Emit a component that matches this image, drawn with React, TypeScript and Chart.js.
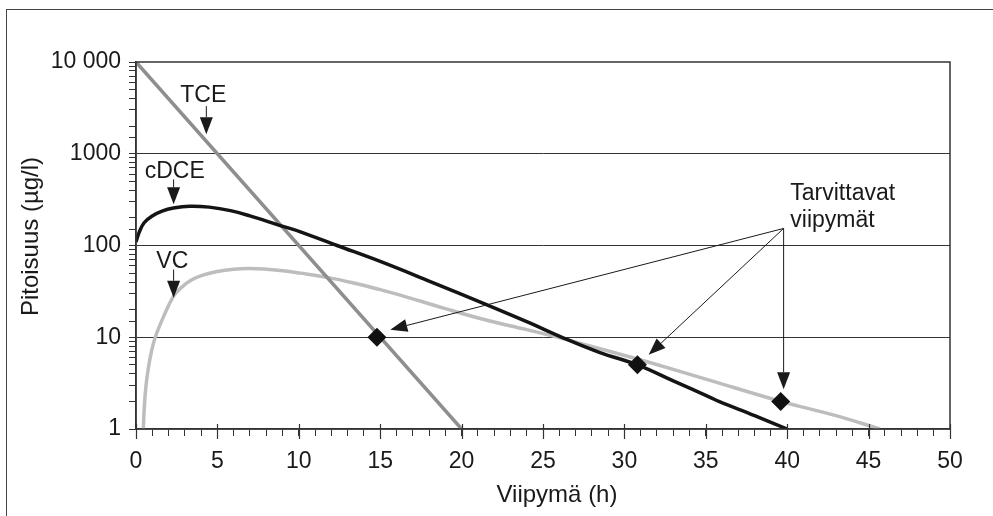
import React, { useEffect, useRef } from "react";
import { Chart, registerables } from "chart.js";

Chart.register(...registerables);

// ---- Data (x in hours, y in µg/l) ----
const TCE_X = [0, 20];
const TCE_Y = [10000, 1];

const CDCE_X = [0, 0.2, 0.5, 1, 1.6, 2.3, 3.3, 4.5, 5.8, 7, 8.86, 10.1, 12.35, 15, 18, 21.56, 24, 26.27, 28.5, 30.8, 33, 35.3, 35.8, 38, 40];
const CDCE_Y = [109, 140, 177, 210, 237, 256, 268, 262, 240, 210, 165, 141, 100, 67, 41, 22.6, 14.8, 9.8, 6.8, 5.0, 3.35, 2.2, 2.0, 1.4, 1.0];

const VC_X = [0.45, 0.5, 0.6, 0.75, 0.95, 1.2, 1.7, 2.3, 2.8, 3.4, 4.1, 5, 6, 7, 8.86, 10.1, 11.9, 13.5, 15, 16.23, 19, 21.56, 24, 26.27, 28.5, 31.4, 35, 39.6, 43, 45.7];
const VC_Y = [1, 1.6, 2.8, 4.5, 7, 10.2, 16.9, 27.9, 35, 42, 47.5, 52, 55, 56, 53.5, 50, 44.4, 38.5, 33, 28.8, 20.5, 15.3, 12.1, 9.6, 7.5, 5.4, 3.5, 2.0, 1.4, 1.0];

const DIAMOND_X = [14.8, 30.8, 39.6];
const DIAMOND_Y = [10, 5, 2];

const X_MIN = 0;
const X_MAX = 50;
const X_MAJOR_STEP = 5;
const Y_MIN = 1;
const Y_MAX = 10000;
const Y_LABELS: Record<number, string> = { 1: "1", 10: "10", 100: "100", 1000: "1000", 10000: "10 000" };

const X_TITLE = "Viipymä (h)";
const Y_TITLE = "Pitoisuus (µg/l)";

// Labels (data coordinates: x, y-baseline value)
const LABEL_TEXTS = ["TCE", "cDCE", "VC"];
const LABEL_X = [4.13, 2.38, 2.23];
const LABEL_Y = [3630, 549, 57];

// Short label arrows (from -> to, data coords)
const SHORT_ARROW_X = [4.32, 2.31, 2.31];
const SHORT_ARROW_FROM_Y = [3304, 526, 54.7];
const SHORT_ARROW_TO_Y = [1633, 281, 27];

// Note text
const NOTE_LINES = ["Tarvittavat", "viipymät"];
const NOTE_X = 40.19;
const NOTE_Y = [310, 161];

// Note arrows: common origin, tips near the diamonds
const NOTE_ORIGIN_X = 39.78;
const NOTE_ORIGIN_Y = 153.5;
const NOTE_TIP_X = [15.62, 31.49, 39.78];
const NOTE_TIP_Y = [12.08, 6.44, 2.72];

const FONT = '"Liberation Sans", Arial, Helvetica, sans-serif';
const INK = "#1a1a1a";

function toPts(xs: number[], ys: number[]) {
  return xs.map((x, i) => ({ x, y: ys[i] }));
}

function drawArrow(ctx: CanvasRenderingContext2D, x1: number, y1: number, x2: number, y2: number, headLen: number, headHalf: number) {
  const ang = Math.atan2(y2 - y1, x2 - x1);
  const bx = x2 - Math.cos(ang) * headLen;
  const by = y2 - Math.sin(ang) * headLen;
  ctx.beginPath();
  ctx.moveTo(x1, y1);
  ctx.lineTo(bx, by);
  ctx.stroke();
  ctx.beginPath();
  ctx.moveTo(x2, y2);
  ctx.lineTo(bx + Math.sin(ang) * headHalf, by - Math.cos(ang) * headHalf);
  ctx.lineTo(bx - Math.sin(ang) * headHalf, by + Math.cos(ang) * headHalf);
  ctx.closePath();
  ctx.fill();
}

const annotPlugin = {
  id: "annot",
  afterDraw(chart: any) {
    const { ctx, chartArea } = chart;
    const xs = chart.scales.x;
    const ys = chart.scales.y;
    const px = (v: number) => xs.getPixelForValue(v);
    const py = (v: number) => ys.getPixelForValue(v);
    ctx.save();

    // plot border
    ctx.strokeStyle = "#333";
    ctx.lineWidth = 1.5;
    ctx.strokeRect(chartArea.left, chartArea.top, chartArea.right - chartArea.left, chartArea.bottom - chartArea.top);

    // major x ticks crossing the axis
    ctx.lineWidth = 1.2;
    for (let v = X_MIN; v <= X_MAX; v += X_MAJOR_STEP) {
      const xx = Math.round(px(v)) + 0.5;
      ctx.beginPath();
      ctx.moveTo(xx, chartArea.bottom - 5);
      ctx.lineTo(xx, chartArea.bottom + 10);
      ctx.stroke();
    }

    // axis titles
    ctx.fillStyle = INK;
    ctx.font = `24px ${FONT}`;
    ctx.textAlign = "center";
    ctx.textBaseline = "middle";
    ctx.fillText(X_TITLE, (chartArea.left + chartArea.right) / 2 + 14, chartArea.bottom + 66);
    ctx.save();
    ctx.translate(chartArea.left - 105, (chartArea.top + chartArea.bottom) / 2 - 9);
    ctx.rotate(-Math.PI / 2);
    ctx.fillText(Y_TITLE, 0, 0);
    ctx.restore();

    // series labels
    ctx.font = `23px ${FONT}`;
    ctx.textBaseline = "alphabetic";
    ctx.textAlign = "center";
    LABEL_TEXTS.forEach((t, i) => ctx.fillText(t, px(LABEL_X[i]), py(LABEL_Y[i])));

    ctx.textAlign = "left";
    NOTE_LINES.forEach((t, i) => ctx.fillText(t, px(NOTE_X), py(NOTE_Y[i])));

    // arrows
    ctx.strokeStyle = INK;
    ctx.fillStyle = INK;
    ctx.lineWidth = 1;
    SHORT_ARROW_X.forEach((xv, i) => {
      drawArrow(ctx, px(xv), py(SHORT_ARROW_FROM_Y[i]), px(xv), py(SHORT_ARROW_TO_Y[i]), 17, 6.5);
    });
    NOTE_TIP_X.forEach((xv, i) => {
      drawArrow(ctx, px(NOTE_ORIGIN_X), py(NOTE_ORIGIN_Y), px(xv), py(NOTE_TIP_Y[i]), 17, 6.5);
    });

    ctx.restore();
  },
};

export default function App() {
  const ref = useRef<HTMLCanvasElement | null>(null);

  useEffect(() => {
    document.body.style.margin = "0";
    const canvas = ref.current;
    if (!canvas) return;
    const isDecade = (v: number) => Math.abs(Math.log10(v) - Math.round(Math.log10(v))) < 1e-9;

    const chart = new Chart(canvas, {
      type: "line",
      data: {
        datasets: [
          {
            label: "diamonds",
            data: toPts(DIAMOND_X, DIAMOND_Y),
            showLine: false,
            pointStyle: "rectRot",
            pointRadius: 9.5,
            pointBackgroundColor: "#111",
            pointBorderColor: "#111",
            pointBorderWidth: 0,
          },
          {
            label: "cDCE",
            data: toPts(CDCE_X, CDCE_Y),
            borderColor: "#141414",
            borderWidth: 3.5,
            pointRadius: 0,
            tension: 0.4,
          },
          {
            label: "TCE",
            data: toPts(TCE_X, TCE_Y),
            borderColor: "#8e8e8e",
            borderWidth: 3.5,
            pointRadius: 0,
            tension: 0,
          },
          {
            label: "VC",
            data: toPts(VC_X, VC_Y),
            borderColor: "#bdbdbd",
            borderWidth: 3.5,
            pointRadius: 0,
            tension: 0.4,
          },
        ],
      },
      options: {
        responsive: false,
        animation: false,
        devicePixelRatio: 1,
        layout: { padding: { left: 0, top: 62, right: 43, bottom: 0 } },
        plugins: { legend: { display: false }, tooltip: { enabled: false } },
        scales: {
          x: {
            type: "linear",
            min: X_MIN,
            max: X_MAX,
            afterFit: (s: any) => {
              s.height = 87;
            },
            border: { display: true, color: "#333", width: 1.5 },
            grid: { drawOnChartArea: false, tickLength: 7, tickColor: "#333", lineWidth: 1 },
            ticks: {
              stepSize: 1,
              autoSkip: false,
              maxRotation: 0,
              padding: 12,
              color: INK,
              font: { family: FONT, size: 23 },
              callback: (v: any) => (Number(v) % X_MAJOR_STEP === 0 ? String(v) : ""),
            },
          },
          y: {
            type: "logarithmic",
            min: Y_MIN,
            max: Y_MAX,
            afterFit: (s: any) => {
              s.width = 136;
            },
            border: { display: true, color: "#333", width: 1.5 },
            grid: {
              tickLength: 7,
              tickColor: "#333",
              lineWidth: 1,
              color: (c: any) => {
                const v = c.tick ? c.tick.value : 0;
                return isDecade(v) && v > Y_MIN && v < Y_MAX ? "#333" : "rgba(0,0,0,0)";
              },
            },
            ticks: {
              autoSkip: false,
              padding: 8,
              color: INK,
              font: { family: FONT, size: 23 },
              callback: (v: any) => {
                const n = Number(v);
                return isDecade(n) ? Y_LABELS[Math.round(n)] ?? "" : "";
              },
            },
          },
        },
      },
      plugins: [annotPlugin],
    } as any);

    return () => chart.destroy();
  }, []);

  return (
    <div style={{ position: "relative", width: 993, height: 516, background: "#fff", overflow: "hidden" }}>
      <div
        style={{
          position: "absolute",
          left: 6,
          top: 9,
          width: 1000,
          height: 520,
          borderTop: "1.5px solid #444",
          borderLeft: "1.5px solid #444",
        }}
      />
      <canvas ref={ref} width={993} height={516} style={{ position: "absolute", left: 0, top: 0, display: "block" }} />
    </div>
  );
}
